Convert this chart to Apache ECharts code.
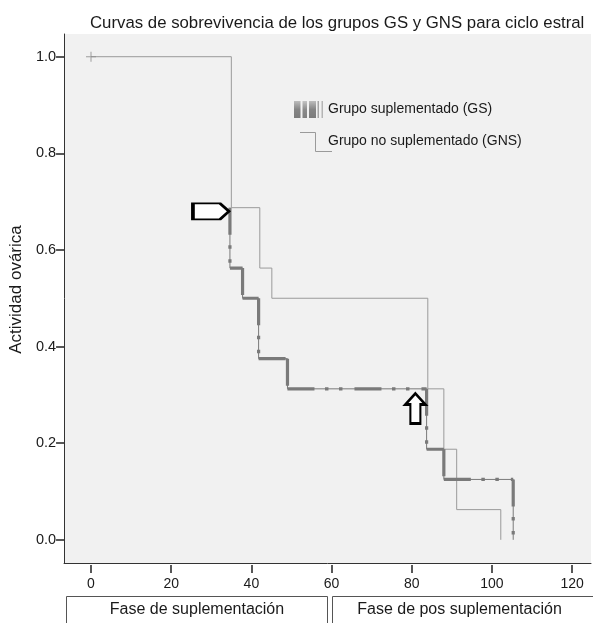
<!DOCTYPE html>
<html>
<head>
<meta charset="utf-8">
<script src="https://cdn.jsdelivr.net/npm/echarts@6/dist/echarts.min.js"></script>
<style>
html,body{margin:0;padding:0;background:#fff;}
#chart{width:593px;height:623px;}
</style>
</head>
<body>
<div id="chart"></div>
<script>
// ---- data ----
const xTicks = [0, 20, 40, 60, 80, 100, 120];
const yTicks = [0, 0.2, 0.4, 0.6, 0.8, 1.0];

// Grupo no suplementado (GNS)
const gnsStart = [0, 1.0];
const gnsTimes = [35.0, 42.1, 45.1, 84.0, 88.0, 91.2, 102.2];
const gnsSurv  = [0.6875, 0.5625, 0.5, 0.3125, 0.1875, 0.0625, 0];

// Grupo suplementado (GS)
const gsStart = [34.65, 0.6875];
const gsTimes = [34.65, 37.8, 41.8, 49.0, 83.7, 88.0, 105.3];
const gsSurv  = [0.5625, 0.5, 0.375, 0.3125, 0.1875, 0.125, 0];

// censored mark
const censored = [[0, 1.0]];

// annotation arrows (data coordinates of arrow tips)
const arrowRight = [34.4, 0.68];
const arrowUp = [80.9, 0.303];

const legendNames = ['Grupo suplementado (GS)', 'Grupo no suplementado (GNS)'];
const phaseNames = ['Fase de suplementación', 'Fase de pos suplementación'];
const titleText = 'Curvas de sobrevivencia de los grupos GS y GNS para ciclo estral';
const yName = 'Actividad ovárica';

// ---- build step polylines ----
function stepPoints(start, times, surv) {
  const pts = [start.slice()];
  let cur = start[1];
  for (let i = 0; i < times.length; i++) {
    const last = pts[pts.length - 1];
    if (!(last[0] === times[i] && last[1] === cur)) pts.push([times[i], cur]);
    pts.push([times[i], surv[i]]);
    cur = surv[i];
  }
  return pts;
}
function segmented(pts) {
  const out = [];
  for (let i = 0; i < pts.length - 1; i++) {
    if (i > 0) out.push(['-', '-']);
    out.push(pts[i], pts[i + 1]);
  }
  return out;
}
const gnsPts = stepPoints(gnsStart, gnsTimes, gnsSurv);
const gsPts = stepPoints(gsStart, gsTimes, gsSurv);
const gsSeg = segmented(gsPts);

const FONT = 'Liberation Sans, Arial, sans-serif';
const XMIN = -6.72, XMAX = 124.7, YMIN = -0.048, YMAX = 1.047;

const chart = echarts.init(document.getElementById('chart'), null, {renderer: 'canvas'});

const plusPath = 'path://M4.5,0H5.5V4.5H10V5.5H5.5V10H4.5V5.5H0V4.5H4.5Z';
const rightArrowPath = 'path://M0,0H27L36,8L27,16H0Z';
const upArrowPath = 'path://M10,0L20,11L15,11L15,30L5,30L5,11L0,11Z';

const option = {
  backgroundColor: '#ffffff',
  animation: false,
  title: {
    text: titleText,
    left: 85, top: 10,
    textStyle: {fontFamily: FONT, fontSize: 16.8, fontWeight: 'normal', color: '#1a1a1a'}
  },
  grid: {left: 63, right: 2, top: 34, bottom: 60, show: true, backgroundColor: '#f1f1f1', borderWidth: 0},
  xAxis: [{
    type: 'value', min: XMIN, max: XMAX, position: 'bottom',
    axisLine: {show: true, onZero: false, lineStyle: {color: '#333', width: 1}},
    axisTick: {show: false}, axisLabel: {show: false}, splitLine: {show: false}
  }, {
    type: 'value', min: XMIN, max: XMAX, position: 'bottom', offset: 2,
    axisLine: {show: false, onZero: false},
    axisTick: {show: true, length: 8, customValues: xTicks, lineStyle: {color: '#222', width: 1.5}},
    axisLabel: {show: true, margin: 12, customValues: xTicks, fontFamily: FONT, fontSize: 14, color: '#1a1a1a',
      formatter: v => String(v)},
    splitLine: {show: false}
  }],
  yAxis: {
    type: 'value', min: YMIN, max: YMAX,
    name: yName, nameLocation: 'middle', nameGap: 35, nameRotate: 90,
    nameTextStyle: {fontFamily: FONT, fontSize: 17, color: '#1a1a1a', padding: [0, 0, 0, 18]},
    axisLine: {show: true, onZero: false, lineStyle: {color: '#333', width: 1}},
    axisTick: {show: true, length: 8, customValues: yTicks, lineStyle: {color: '#222', width: 1.5}},
    axisLabel: {show: true, margin: 8, customValues: yTicks, fontFamily: FONT, fontSize: 14.5, color: '#1a1a1a',
      formatter: v => v.toFixed(1)},
    splitLine: {show: false}
  },
  series: [{
    name: legendNames[1], type: 'line', data: gnsPts, showSymbol: false, symbol: 'none',
    lineStyle: {color: '#9a9a9a', width: 1}, z: 2,
    markPoint: {
      silent: true,
      label: {show: false},
      data: [{
        coord: arrowRight, symbol: rightArrowPath, symbolSize: [36, 16], symbolOffset: [-18, 0],
        itemStyle: {color: '#ffffff', borderColor: '#000', borderWidth: 2.5}
      }, {
        coord: arrowUp, symbol: upArrowPath, symbolSize: [20, 30], symbolOffset: [0, 15],
        itemStyle: {color: '#ffffff', borderColor: '#000', borderWidth: 2.5}
      }]
    }
  }, {
    name: legendNames[0] + ' thin', type: 'line', data: gsSeg, connectNulls: false, showSymbol: false, symbol: 'none',
    lineStyle: {color: '#7a7a7a', width: 1}, z: 3
  }, {
    name: legendNames[0], type: 'line', data: gsSeg, connectNulls: false, showSymbol: false, symbol: 'none',
    lineStyle: {color: '#7a7a7a', width: 3.2, type: [27, 10.5, 3.5, 10.5, 3.5, 12], cap: 'butt'}, z: 4
  }, {
    name: 'censurado', type: 'scatter', data: censored, symbol: plusPath, symbolSize: 10,
    itemStyle: {color: '#8a8a8a'}, z: 5, silent: true
  }],
  graphic: [
    // legend icon GS (striped)
    {type: 'rect', shape: {x: 294, y: 101, width: 6.5, height: 17}, style: {fill: {type: 'linear', x: 0, y: 0, x2: 0, y2: 1, colorStops: [{offset: 0, color: '#bdbdbd'}, {offset: 0.5, color: '#858585'}, {offset: 1, color: '#7c7c7c'}]}}},
    {type: 'rect', shape: {x: 302.5, y: 101, width: 4.5, height: 17}, style: {fill: {type: 'linear', x: 0, y: 0, x2: 0, y2: 1, colorStops: [{offset: 0, color: '#c4c4c4'}, {offset: 0.5, color: '#8c8c8c'}, {offset: 1, color: '#808080'}]}}},
    {type: 'rect', shape: {x: 309, y: 101, width: 7, height: 17}, style: {fill: {type: 'linear', x: 0, y: 0, x2: 0, y2: 1, colorStops: [{offset: 0, color: '#bdbdbd'}, {offset: 0.5, color: '#858585'}, {offset: 1, color: '#7c7c7c'}]}}},
    {type: 'rect', shape: {x: 317.5, y: 101, width: 1.5, height: 17}, style: {fill: '#a5a5a5'}},
    {type: 'rect', shape: {x: 321.5, y: 101, width: 1.5, height: 17}, style: {fill: '#b5b5b5'}},
    {type: 'text', x: 328, y: 109, style: {text: legendNames[0], fontFamily: FONT, fontSize: 14, fill: '#1a1a1a', textVerticalAlign: 'middle', verticalAlign: 'middle'}},
    // legend icon GNS (step)
    {type: 'polyline', shape: {points: [[300, 132.5], [315.5, 132.5], [315.5, 151.5], [332, 151.5]]}, style: {stroke: '#9a9a9a', lineWidth: 1, fill: null}},
    {type: 'text', x: 328, y: 141.5, style: {text: legendNames[1], fontFamily: FONT, fontSize: 14, fill: '#1a1a1a', textVerticalAlign: 'middle', verticalAlign: 'middle'}},
    // phase boxes
    {type: 'rect', shape: {x: 66.5, y: 596.5, width: 261, height: 40}, style: {fill: '#fff', stroke: '#555', lineWidth: 1}},
    {type: 'text', x: 197, y: 610, style: {text: phaseNames[0], fontFamily: FONT, fontSize: 16, fill: '#1a1a1a', align: 'center', textAlign: 'center', verticalAlign: 'middle', textVerticalAlign: 'middle'}},
    {type: 'rect', shape: {x: 332.5, y: 596.5, width: 280, height: 40}, style: {fill: '#fff', stroke: '#555', lineWidth: 1}},
    {type: 'text', x: 459.5, y: 610, style: {text: phaseNames[1], fontFamily: FONT, fontSize: 16, fill: '#1a1a1a', align: 'center', textAlign: 'center', verticalAlign: 'middle', textVerticalAlign: 'middle'}}
  ]
};
chart.setOption(option);
</script>
</body>
</html>
